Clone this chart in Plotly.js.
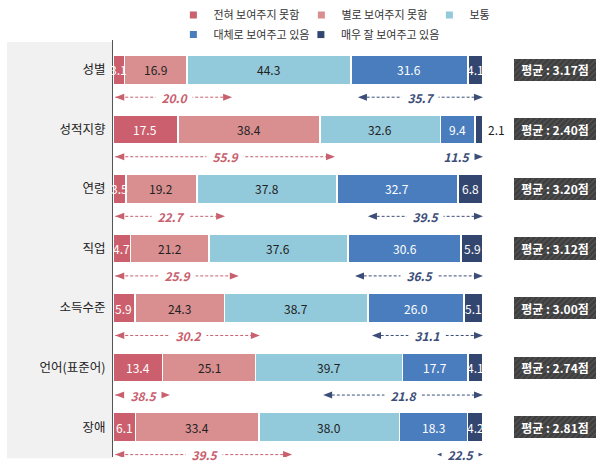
<!DOCTYPE html>
<html><head><meta charset="utf-8">
<script src="https://cdn.plot.ly/plotly-3.0.1.min.js"></script>
<style>html,body{margin:0;padding:0;background:#fff}#c{width:605px;height:465px}</style>
</head><body><div id="c"></div>
<script>
// ---- data ----
const categories = ['성별','성적지향','연령','직업','소득수준','언어(표준어)','장애'];
const seriesNames = ['전혀 보여주지 못함','별로 보여주지 못함','보통','대체로 보여주고 있음','매우 잘 보여주고 있음'];
const s1 = [3.1, 17.5, 3.5, 4.7, 5.9, 13.4, 6.1];
const s2 = [16.9, 38.4, 19.2, 21.2, 24.3, 25.1, 33.4];
const s3 = [44.3, 32.6, 37.8, 37.6, 38.7, 39.7, 38.0];
const s4 = [31.6, 9.4, 32.7, 30.6, 26.0, 17.7, 18.3];
const s5 = [4.1, 2.1, 6.8, 5.9, 5.1, 4.1, 4.2];
const means = [3.17, 2.40, 3.20, 3.12, 3.00, 2.74, 2.81];

// ---- decorative arrow extents (axis units) ----
const leftArrowEnd = [32.2, 60, 30.3, 34, 39.7, 15.4, 48.4];
const rightArrowStart = [66.2, 85.2, 68.9, 65.4, 70, 56.8, 87.6];
const rightArrowTailHead = [true, false, true, true, true, true, true];

const colors = ['#cb5f6d','#d98f90','#93cadb','#4a7dbd','#33466f'];
const textColors = ['#ffffff','#222222','#222222','#ffffff','#ffffff'];
const FONT = 'Noto Sans CJK KR, Noto Sans, sans-serif';
const series = [s1,s2,s3,s4,s5];
const fmt = v => v.toFixed(1);

const traces = series.map((s,k) => ({
  type:'bar', orientation:'h', y:categories, x:s, name:seriesNames[k],
  marker:{color:colors[k], line:{color:'#ffffff', width:1.5}},
  width:0.49, showlegend:false, hoverinfo:'skip'
}));

// mean boxes (hatched)
traces.push({
  type:'bar', orientation:'h', y:categories, x:means.map(()=>1), xaxis:'x2', yaxis:'y',
  width:0.37, showlegend:false, hoverinfo:'skip',
  marker:{color:'#3e3e3e', line:{width:0},
    pattern:{shape:'/', fgcolor:'#6b6b6b', size:4, solidity:0.3, fillmode:'overlay'}},
  text:means.map(m => '<b>평균 : ' + m.toFixed(2) + '점</b>'),
  textposition:'inside', insidetextanchor:'middle', textangle:0, constraintext:'none',
  textfont:{family:FONT, size:12, color:'#ffffff'}
});

// legend entries
const legendIds = ['legend','legend','legend','legend2','legend3'];
seriesNames.forEach((n,k) => traces.push({
  type:'scatter', mode:'markers', x:[null], y:[null], name:n,
  marker:{symbol:'square', size:7, color:colors[k]},
  legend: legendIds[k], showlegend:true, hoverinfo:'skip'
}));

const shapes = [{
  type:'rect', xref:'paper', yref:'paper', x0:-0.2195, x1:0, y0:-0.003, y1:0.995, layer:'below',
  fillcolor:'#f1f1f1', line:{width:0}
}];
const annotations = [];

// segment labels
categories.forEach((c,i) => {
  let cum = 0;
  series.forEach((s,k) => {
    const v = s[i];
    if (k === 4 && v < 3) {
      annotations.push({xref:'x', yref:'y', x:cum + v, y:i, xanchor:'left', xshift:3, showarrow:false,
        text:fmt(v), font:{family:FONT, size:12, color:'#222'}});
    } else {
      annotations.push({xref:'x', yref:'y', x:cum + v/2, y:i, showarrow:false,
        text:fmt(v), font:{family:FONT, size:12, color:textColors[k]}});
    }
    cum += v;
  });
});

const red = '#c9606e', navy = '#3c4e78';
function arrowHead(x, y, dir, color){
  shapes.push({type:'path', xref:'x', yref:'y', xsizemode:'pixel', ysizemode:'pixel',
    xanchor:x, yanchor:y,
    path: dir>0 ? 'M0,0 L-9,-3.5 L-9,3.5 Z' : 'M0,0 L9,-3.5 L9,3.5 Z',
    fillcolor:color, line:{width:0}});
}
categories.forEach((c,i) => {
  const y = i + 0.46;
  const neg = s1[i] + s2[i], pos = s4[i] + s5[i];
  const l0 = 0.6, l1 = leftArrowEnd[i];
  shapes.push({type:'line', xref:'x', yref:'y', x0:l0, x1:l1-1, y0:y, y1:y, line:{color:red, width:1, dash:'3px,2px'}});
  arrowHead(l0, y, -1, red); arrowHead(l1, y, 1, red);
  const r0 = rightArrowStart[i], r1 = 100;
  if (rightArrowTailHead[i]) {
    shapes.push({type:'line', xref:'x', yref:'y', x0:r0+1, x1:r1-1, y0:y, y1:y, line:{color:navy, width:1, dash:'3px,2px'}});
    arrowHead(r0, y, -1, navy);
  }
  arrowHead(r1, y, 1, navy);
  annotations.push({xref:'x', yref:'y', x:(l0+l1)/2, y:y, showarrow:false,
    text:'&nbsp;&nbsp;<b><i>' + fmt(neg) + '</i></b>&nbsp;&nbsp;', bgcolor:'#ffffff', borderpad:0,
    font:{family:FONT, size:12, color:red}});
  annotations.push({xref:'x', yref:'y', x:(r0+r1)/2, y:y, showarrow:false,
    text:'&nbsp;&nbsp;<b><i>' + fmt(pos) + '</i></b>&nbsp;&nbsp;', bgcolor:'#ffffff', borderpad:0,
    font:{family:FONT, size:12, color:navy}});
});

const legendBase = {orientation:'h', xanchor:'left', yanchor:'middle', traceorder:'normal',
  entrywidth:83, entrywidthmode:'pixels', itemsizing:'trace',
  font:{family:FONT, size:11, color:'#333'}, bgcolor:'rgba(0,0,0,0)'};
const legendSingle = {orientation:'h', xanchor:'left', yanchor:'middle', traceorder:'normal',
  itemsizing:'trace', font:{family:FONT, size:11, color:'#333'}, bgcolor:'rgba(0,0,0,0)'};

const layout = {
  width:605, height:465,
  margin:{l:113, r:9, t:40, b:8, autoexpand:false},
  paper_bgcolor:'#ffffff', plot_bgcolor:'rgba(0,0,0,0)',
  barmode:'stack', bargap:0,
  font:{family:FONT, size:12, color:'#222'},
  xaxis:{domain:[0,0.766], range:[0,100], visible:false, fixedrange:true},
  xaxis2:{domain:[0.830,1], range:[0,1], visible:false, anchor:'y', fixedrange:true},
  yaxis:{type:'category', categoryorder:'array', categoryarray:categories, automargin:false,
    range:[6.5,-0.5], showline:true, linecolor:'#555', linewidth:1, ticks:'',
    showgrid:false, zeroline:false, ticklabelstandoff:4,
    tickfont:{family:FONT, size:12.5, color:'#222'}},
  legend:Object.assign({}, legendBase, {x:0.125, y:1.06}),
  legend2:Object.assign({}, legendSingle, {x:0.125, y:1.013}),
  legend3:Object.assign({}, legendSingle, {x:0.389, y:1.013}),
  shapes:shapes, annotations:annotations, showlegend:true
};
Plotly.newPlot('c', traces, layout, {displayModeBar:false, staticPlot:true});
</script></body></html>
